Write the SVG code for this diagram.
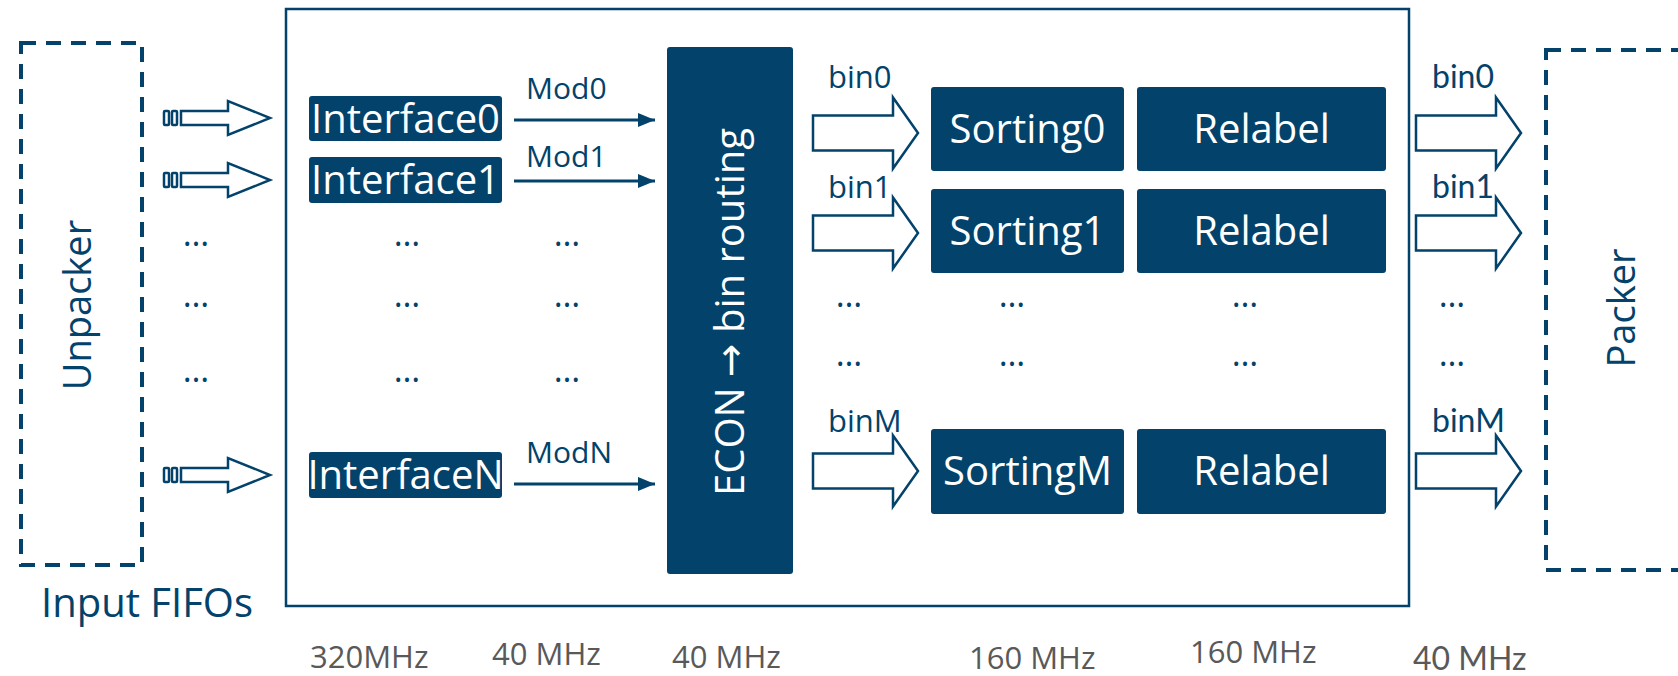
<svg xmlns="http://www.w3.org/2000/svg" width="1678" height="676" viewBox="0 0 1678 676">
<defs>
<style>
.blk{fill:#03426a;}
.wt{fill:#ffffff;font-family:"Open Sans","Noto Sans",sans-serif;font-size:40px;}
.nv{fill:#03426a;font-family:"Open Sans","Noto Sans",sans-serif;}
.gs{fill:#03426a;font-family:Lato,"Open Sans",sans-serif;}
.hz{fill:#595959;font-family:"Open Sans","Noto Sans",sans-serif;font-size:31px;}
.hzl{fill:#595959;font-family:Lato,"Open Sans",sans-serif;font-size:32px;}
.dash{fill:none;stroke:#03426a;stroke-width:4;stroke-dasharray:15 10;}
.hol{fill:#ffffff;stroke:#03426a;stroke-width:2.5;stroke-linejoin:miter;}
.ln{stroke:#03426a;stroke-width:3;fill:none;}
.dots{fill:#03426a;font-family:"Open Sans",sans-serif;font-size:34px;text-anchor:middle;}
.arr{font-family:"DejaVu Sans",sans-serif;}
</style>
<marker id="tri" viewBox="0 0 17 14" refX="17" refY="7" markerWidth="17" markerHeight="14" markerUnits="userSpaceOnUse" orient="auto">
<path d="M0,0 L17,7 L0,14 Z" fill="#03426a"/>
</marker>
<g id="inarrow">
<rect x="164" y="-7" width="5" height="14" rx="1" class="hol" stroke-width="2"/>
<rect x="172" y="-7" width="5" height="14" rx="1" class="hol" stroke-width="2"/>
<path d="M181,-7 H228 V-17 L270,0 L228,17 V7 H181 Z" class="hol"/>
</g>
<path id="binarrow" d="M0,-17.5 H80 V-35.5 L105,0 L80,35.5 V17.5 H0 Z" class="hol"/>
</defs>
<rect width="1678" height="676" fill="#ffffff"/>

<g id="unpacker">
<rect x="21" y="43" width="121" height="522" class="dash"/>
<text class="nv" font-size="38" transform="translate(91,305) rotate(-90)" text-anchor="middle">Unpacker</text>
</g>
<g id="input-fifos-label">
<text class="nv" font-size="40" x="41" y="617">Input FIFOs</text>
</g>

<g id="main-box">
<rect x="286" y="9" width="1123" height="597" fill="none" stroke="#03426a" stroke-width="2.5"/>
</g>

<g id="packer">
<rect x="1546" y="50" width="160" height="520" class="dash"/>
<text class="nv" font-size="38" transform="translate(1635,308) rotate(-90)" text-anchor="middle">Packer</text>
</g>

<g id="interface0">
<rect x="309" y="96" width="193" height="45" rx="3" class="blk"/>
<text class="wt" x="405.5" y="133" text-anchor="middle">Interface0</text>
</g>
<g id="interface1">
<rect x="309" y="157" width="193" height="46" rx="3" class="blk"/>
<text class="wt" x="405.5" y="194" text-anchor="middle">Interface1</text>
</g>
<g id="interfaceN">
<rect x="309" y="452" width="193" height="46" rx="3" class="blk"/>
<text class="wt" x="405.5" y="489" text-anchor="middle">InterfaceN</text>
</g>

<g id="econ-routing">
<rect x="667" y="47" width="126" height="527" rx="3" class="blk"/>
<text class="wt" transform="translate(744,312) rotate(-90)" text-anchor="middle">ECON <tspan class="arr">→</tspan> bin routing</text>
</g>

<g id="sorting0">
<rect x="931" y="87" width="193" height="84" rx="3" class="blk"/>
<text class="wt" x="1027.5" y="143" text-anchor="middle">Sorting0</text>
</g>
<g id="relabel0">
<rect x="1137" y="87" width="249" height="84" rx="3" class="blk"/>
<text class="wt" x="1261.5" y="143" text-anchor="middle">Relabel</text>
</g>
<g id="sorting1">
<rect x="931" y="189" width="193" height="84" rx="3" class="blk"/>
<text class="wt" x="1027.5" y="245" text-anchor="middle">Sorting1</text>
</g>
<g id="relabel1">
<rect x="1137" y="189" width="249" height="84" rx="3" class="blk"/>
<text class="wt" x="1261.5" y="245" text-anchor="middle">Relabel</text>
</g>
<g id="sortingM">
<rect x="931" y="429" width="193" height="85" rx="3" class="blk"/>
<text class="wt" x="1027.5" y="485" text-anchor="middle">SortingM</text>
</g>
<g id="relabelM">
<rect x="1137" y="429" width="249" height="85" rx="3" class="blk"/>
<text class="wt" x="1261.5" y="485" text-anchor="middle">Relabel</text>
</g>

<g id="connectors">
<use href="#inarrow" transform="translate(0,118)"/>
<use href="#inarrow" transform="translate(0,180)"/>
<use href="#inarrow" transform="translate(0,475)"/>
<line x1="514" y1="120" x2="655" y2="120" class="ln" marker-end="url(#tri)"/>
<line x1="514" y1="181" x2="655" y2="181" class="ln" marker-end="url(#tri)"/>
<line x1="514" y1="484" x2="655" y2="484" class="ln" marker-end="url(#tri)"/>
<use href="#binarrow" transform="translate(813,133)"/>
<use href="#binarrow" transform="translate(813,233)"/>
<use href="#binarrow" transform="translate(813,471)"/>
<use href="#binarrow" transform="translate(1416,133)"/>
<use href="#binarrow" transform="translate(1416,233)"/>
<use href="#binarrow" transform="translate(1416,471)"/>
</g>

<g id="labels">
<text class="nv" font-size="30" x="526" y="99">Mod0</text>
<text class="nv" font-size="30" x="526" y="167">Mod1</text>
<text class="nv" font-size="30" x="526" y="463">ModN</text>
<text class="nv" font-size="31" x="828" y="88">bin0</text>
<text class="nv" font-size="31" x="828" y="198">bin1</text>
<text class="nv" font-size="31" x="828" y="432">binM</text>
<text class="gs" font-size="32" x="1432" y="88">bin0</text>
<text class="gs" font-size="32" x="1432" y="198">bin1</text>
<text class="gs" font-size="32" x="1432" y="432">binM</text>
<text class="hz" x="310" y="668">320MHz</text>
<text class="hz" x="492" y="665">40 MHz</text>
<text class="hz" x="672" y="668">40 MHz</text>
<text class="hz" x="969" y="669">160 MHz</text>
<text class="hz" x="1190" y="663">160 MHz</text>
<text class="hzl" x="1413" y="670">40 MHz</text>
</g>

<g id="ellipses">
<text class="dots" x="196" y="246">…</text>
<text class="dots" x="196" y="307">…</text>
<text class="dots" x="196" y="382">…</text>
<text class="dots" x="407" y="246">…</text>
<text class="dots" x="407" y="307">…</text>
<text class="dots" x="407" y="382">…</text>
<text class="dots" x="567" y="246">…</text>
<text class="dots" x="567" y="307">…</text>
<text class="dots" x="567" y="382">…</text>
<text class="dots" x="849" y="307">…</text>
<text class="dots" x="849" y="366">…</text>
<text class="dots" x="1012" y="307">…</text>
<text class="dots" x="1012" y="366">…</text>
<text class="dots" x="1245" y="307">…</text>
<text class="dots" x="1245" y="366">…</text>
<text class="dots" x="1452" y="307">…</text>
<text class="dots" x="1452" y="366">…</text>
</g>
</svg>
